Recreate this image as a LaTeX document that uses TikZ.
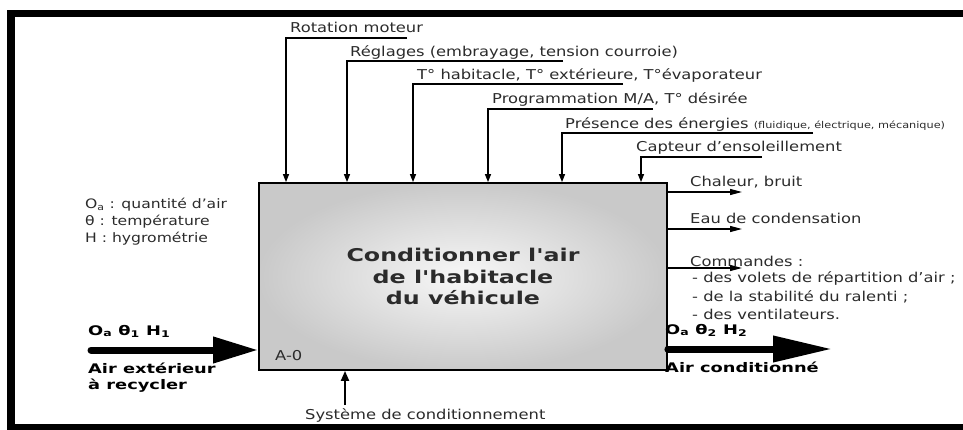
\documentclass[tikz,border=0pt]{standalone}
\usepackage{fontspec}
\setmainfont{DejaVu Sans}[FakeStretch=1.2]
\newfontfamily\widefont{DejaVu Sans}[FakeStretch=1.35]
\usetikzlibrary{arrows.meta,positioning}
\definecolor{inkgray}{HTML}{2B2B2B}
\tikzset{
  fctbox/.style={draw=black,line width=1.8pt,inner color=gray!6,outer color=gray!42,minimum width=408pt,minimum height=187pt,align=center,font=\widefont\bfseries\fontsize{17.6}{21.5}\selectfont,text=inkgray},
  lbl/.style={inner sep=0pt,anchor=base west,text=inkgray,font=\fontsize{13.6}{18}\selectfont},
  boldlbl/.style={lbl,font=\widefont\bfseries\fontsize{13.2}{16}\selectfont,text=black},
  ctrl/.style={-{Triangle[length=8pt,width=6pt]},line width=1.3pt},
  outflow/.style={-{Triangle[length=12pt,width=6pt]},line width=1.2pt},
  mech/.style={-{Triangle[length=10pt,width=8pt]},line width=2pt},
  airflow/.style={line width=7pt,line cap=round},
}
\begin{document}
\begin{tikzpicture}[x=1pt,y=-1pt]
  \useasboundingbox (0,0) rectangle (963,430);
  % frame
  \fill (7,10) rectangle (963,17);
  \fill (7,10) rectangle (15,430);
  \fill (7,424) rectangle (963,430);
  % activity box
  \node[fctbox] (fct) at (463,276.5) {Conditionner l'air\\de l'habitacle\\du véhicule};
  \node[lbl] (a0) at (275,360) {A-0};
  % controls
  \node[lbl] (rot) at (290,33) {Rotation moteur};
  \coordinate (rotC) at (286,38); \coordinate (rotE) at (407,38);
  \draw[ctrl] (rotE) -- (rotC) -- (rotC |- fct.north);
  \node[lbl] (reg) at (350,57) {Réglages (embrayage, tension courroie)};
  \coordinate (regC) at (347,61); \coordinate (regE) at (563,61);
  \draw[ctrl] (regE) -- (regC) -- (regC |- fct.north);
  \node[lbl] (temp) at (417,80) {T° habitacle, T° extérieure, T°évaporateur};
  \coordinate (tempC) at (413,84); \coordinate (tempE) at (623,84);
  \draw[ctrl] (tempE) -- (tempC) -- (tempC |- fct.north);
  \node[lbl] (prog) at (492,104) {Programmation M/A, T° désirée};
  \coordinate (progC) at (488,109); \coordinate (progE) at (653,109);
  \draw[ctrl] (progE) -- (progC) -- (progC |- fct.north);
  \node[lbl] (ener) at (565,129) {Présence des énergies {\fontsize{9.4}{11}\selectfont(fluidique, électrique, mécanique)}};
  \coordinate (enerC) at (562,133); \coordinate (enerE) at (813,133);
  \draw[ctrl] (enerE) -- (enerC) -- (enerC |- fct.north);
  \node[lbl] (sol) at (636,152) {Capteur d'ensoleillement};
  \coordinate (solC) at (641,157); \coordinate (solE) at (762,157);
  \draw[ctrl] (solE) -- (solC) -- (solC |- fct.north);
  % outputs
  \coordinate (chE) at (742,192); \coordinate (eauE) at (742,229); \coordinate (cmdE) at (742,268);
  \draw[outflow] (fct.east |- chE) -- (chE);
  \draw[outflow] (fct.east |- eauE) -- (eauE);
  \draw[outflow] (fct.east |- cmdE) -- (cmdE);
  \node[lbl] (ch) at (690,187) {Chaleur, bruit};
  \node[lbl] (eau) at (690,224) {Eau de condensation};
  \node[lbl] (cmd) at (690,266) {Commandes :};
  \node[lbl,align=left] (cmdl) at (692,319) {- des volets de répartition d'air ;\\- de la stabilité du ralenti ;\\- des ventilateurs.};
  % legend
  \node[lbl,font=\fontsize{13}{17}\selectfont,align=left] (leg) at (85,243) {O\textsubscript{a} : quantité d'air\\θ : température\\H : hygrométrie};
  % air in
  \coordinate (ain) at (91,350);
  \draw[airflow,-{Triangle[length=45pt,width=25pt]}] (ain) -- (ain -| fct.west);
  \node[boldlbl] (qin) at (88,335) {O\textsubscript{a} θ\textsubscript{1} H\textsubscript{1}};
  \node[boldlbl,align=left] (airin) at (88,389) {Air extérieur\\à recycler};
  % air out
  \coordinate (aout) at (832,349);
  \draw[airflow,-{Triangle[length=59pt,width=25pt]}] (fct.east |- aout) -- (aout);
  \node[boldlbl] (qout) at (665,334) {O\textsubscript{a} θ\textsubscript{2} H\textsubscript{2}};
  \node[boldlbl] (airout) at (665,372) {Air conditionné};
  % mechanism
  \coordinate (mecS) at (345,405);
  \draw[mech] (mecS) -- (mecS |- fct.south);
  \node[lbl] (sys) at (305,419) {Système de conditionnement};
\end{tikzpicture}
\end{document}
